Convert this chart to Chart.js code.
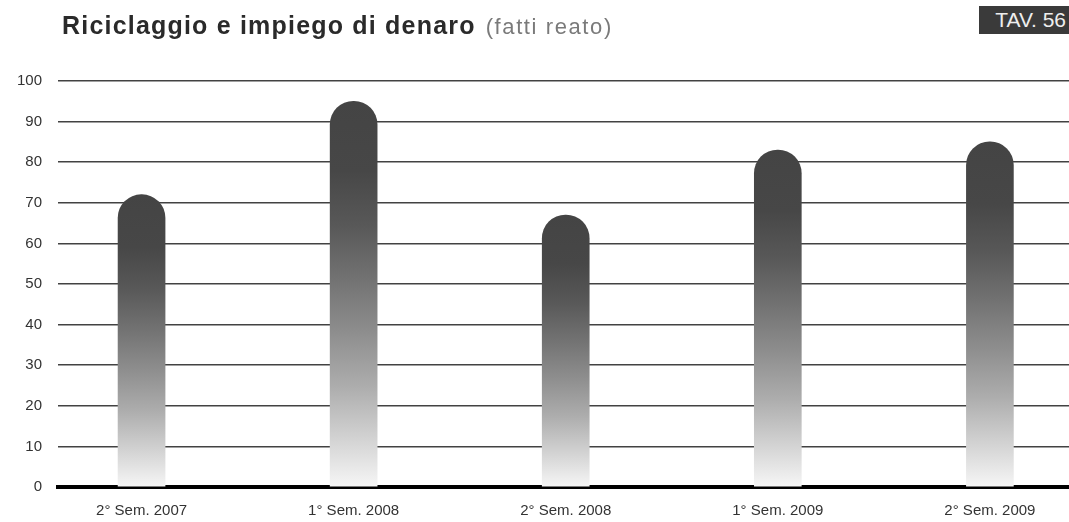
<!DOCTYPE html>
<html>
<head>
<meta charset="utf-8">
<script src="https://cdn.jsdelivr.net/npm/chart.js@4"></script>
<style>
  html, body { margin: 0; padding: 0; background: #fff; }
  #wrap { position: relative; width: 1069px; height: 522px; font-family: "Liberation Sans", Arial, sans-serif; }
  #title { position: absolute; left: 62px; top: 13px; white-space: nowrap; line-height: 24px; }
  #title b { font-size: 25px; font-weight: 900; color: #2a2a2a; letter-spacing: 1.2px; }
  #title span { font-size: 22px; color: #7a7a7a; margin-left: 10px; letter-spacing: 1.6px; }
  #tav { position: absolute; left: 979px; top: 6px; width: 90px; height: 28px; background: #3a3a3a;
         color: #eee; font-size: 21px; line-height: 28px; text-align: right; padding-right: 3px; box-sizing: border-box; }
</style>
</head>
<body>
<div id="wrap">
  <canvas id="chart"></canvas>
  <div id="title"><b>Riciclaggio e impiego di denaro</b><span>(fatti reato)</span></div>
  <div id="tav">TAV. 56</div>
</div>
<script>
// dati
const categories = ["2° Sem. 2007", "1° Sem. 2008", "2° Sem. 2008", "1° Sem. 2009", "2° Sem. 2009"];
const fattiReato = [72, 95, 67, 83, 85];
const yTicks = [0, 10, 20, 30, 40, 50, 60, 70, 80, 90, 100];

// sfumatura per ogni barra, dall'alto (scuro) al basso (chiaro)
function barGradient(ctx) {
  const chart = ctx.chart;
  if (!chart.chartArea || ctx.type !== "data") return "#444";
  const y = chart.scales.y;
  const top = y.getPixelForValue(ctx.parsed.y);
  const bottom = y.getPixelForValue(0);
  const g = chart.ctx.createLinearGradient(0, top, 0, bottom);
  g.addColorStop(0, "#444444");
  g.addColorStop(0.18, "#474747");
  g.addColorStop(0.32, "#585858");
  g.addColorStop(0.46, "#727272");
  g.addColorStop(0.6, "#8e8e8e");
  g.addColorStop(0.74, "#adadad");
  g.addColorStop(0.88, "#d4d4d4");
  g.addColorStop(1, "#f6f6f6");
  return g;
}

new Chart(document.getElementById("chart"), {
  type: "bar",
  data: {
    datasets: [{
      data: fattiReato.map((v, i) => ({ x: i, y: v })),
      backgroundColor: barGradient,
      borderWidth: 0,
      borderRadius: { topLeft: 24, topRight: 24 },
      borderSkipped: "bottom",
      barThickness: 47,
    }],
  },
  options: {
    responsive: true,
    maintainAspectRatio: false,
    animation: false,
    layout: { padding: { top: 81, left: 0, right: 0, bottom: 0 } },
    plugins: { legend: { display: false }, tooltip: { enabled: false }, title: { display: false } },
    scales: {
      x: {
        type: "linear",
        offset: false,
        min: -0.394,
        max: 4.373,
        grid: { display: false, drawTicks: false },
        border: { display: true, color: "#000", width: 4 },
        afterBuildTicks: (s) => { s.ticks = categories.map((_, i) => ({ value: i })); },
        afterFit: (s) => { s.height = 35; },
        ticks: {
          autoSkip: false,
          maxRotation: 0,
          padding: 15,
          color: "#333",
          font: { family: "'Liberation Sans', Arial, sans-serif", size: 15 },
          callback: (v) => categories[v] ?? "",
        },
      },
      y: {
        min: 0,
        max: 100,
        z: 1,
        afterBuildTicks: (s) => { s.ticks = yTicks.map((v) => ({ value: v })); },
        afterFit: (s) => { s.width = 58; },
        border: { display: false },
        grid: { color: "rgba(45,45,45,0.9)", lineWidth: 1.5, drawTicks: false },
        ticks: {
          padding: 16,
          color: "#333",
          font: { family: "'Liberation Sans', Arial, sans-serif", size: 15 },
        },
      },
    },
  },
});
</script>
</body>
</html>
